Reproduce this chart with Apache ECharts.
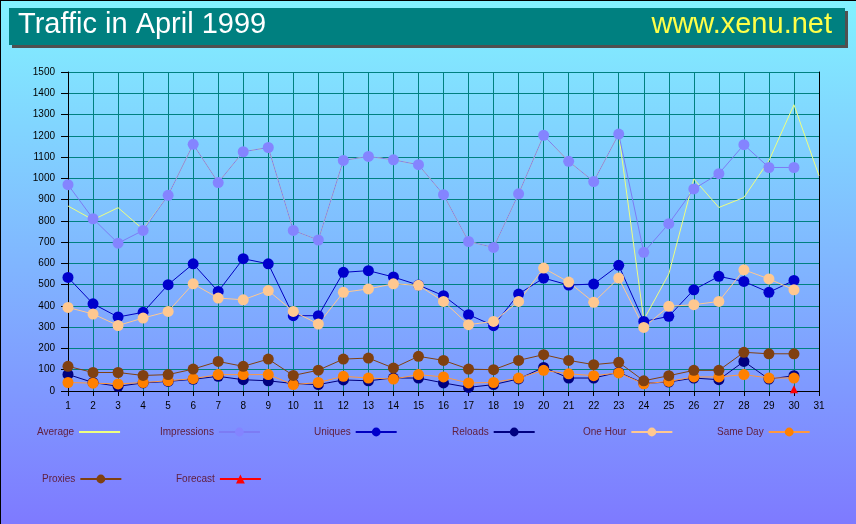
<!DOCTYPE html>
<html>
<head>
<meta charset="utf-8">
<script src="https://cdn.jsdelivr.net/npm/echarts@6/dist/echarts.min.js"></script>
<style>
  html, body { margin: 0; padding: 0; }
  #main { width: 856px; height: 524px; }
</style>
</head>
<body>
<div id="main"></div>
<script>
// days of the month
var days = ['1','2','3','4','5','6','7','8','9','10','11','12','13','14','15','16',
  '17','18','19','20','21','22','23','24','25','26','27','28','29','30','31'];

// series values
var average     = [870, 805, 862, 760, 920, 1160, 980, 1125, 1145, 755, 710, 1084, 1103, 1087, 1064, 923,
                   703, 675, 927, 1202, 1080, 985, 1208, 335, 550, 997, 863, 910, 1083, 1346, 1012];
var impressions = [970, 810, 695, 755, 920, 1160, 980, 1125, 1145, 755, 710, 1084, 1103, 1087, 1064, 923,
                   703, 675, 927, 1202, 1080, 985, 1208, 652, 787, 950, 1022, 1158, 1051, 1051, null];
var uniques     = [534, 410, 348, 370, 500, 598, 468, 622, 598, 354, 354, 558, 566, 536, 498, 448,
                   359, 307, 456, 531, 498, 503, 591, 327, 351, 476, 539, 515, 464, 520, null];
var reloads     = [78, 40, 22, 38, 45, 55, 69, 53, 48, 35, 30, 52, 48, 61, 61, 38,
                   17, 30, 57, 111, 61, 61, 88, 36, 42, 61, 53, 139, 56, 72, null];
var oneHour     = [393, 362, 308, 343, 374, 504, 437, 429, 472, 374, 315, 464, 480, 504, 497, 421,
                   312, 327, 421, 578, 512, 417, 531, 299, 398, 406, 421, 570, 527, 476, null];
var sameDay     = [40, 37, 33, 40, 48, 58, 77, 77, 77, 30, 40, 69, 61, 56, 77, 66,
                   38, 40, 61, 97, 81, 72, 85, 34, 45, 66, 66, 77, 61, 61, null];
var proxies     = [116, 87, 87, 73, 77, 103, 139, 116, 150, 73, 98, 150, 155, 108, 163, 144,
                   103, 100, 144, 171, 144, 124, 135, 48, 72, 97, 97, 182, 175, 175, null];
var forecast    = [null, null, null, null, null, null, null, null, null, null, null, null, null, null, null, null,
                   null, null, null, null, null, null, null, null, null, null, null, null, null, 8, null];

var yTicks = { min: 0, max: 1500, step: 100 };

var myChart = echarts.init(document.getElementById('main'));

var font = 'Liberation Sans, Arial, sans-serif';
var legendText = { color: '#602040', fontSize: 10, fontFamily: font };

function lineSeries(name, data, color, lineColor, symbol, size) {
  return {
    name: name,
    type: 'line',
    data: data,
    symbol: symbol,
    symbolSize: size,
    showSymbol: symbol !== 'none',
    connectNulls: false,
    animation: false,
    itemStyle: { color: color },
    lineStyle: { color: lineColor, width: 1 },
    emphasis: { disabled: true }
  };
}

// one legend box per item so each sits where the original puts it
function legendAt(item, x, y) {
  return {
    data: [item],
    left: x,
    top: y,
    align: 'right',
    padding: 0,
    itemWidth: 41,
    itemHeight: 11,
    textStyle: legendText,
    selectedMode: false
  };
}

option = {
  backgroundColor: {
    type: 'linear', x: 0, y: 0, x2: 0, y2: 1,
    colorStops: [
      { offset: 0, color: '#82F2FF' },
      { offset: 1, color: '#7E7AFF' }
    ]
  },
  title: [
    {
      text: 'Traffic in April 1999',
      left: 18, top: 10, padding: 0,
      textStyle: { color: '#ffffff', fontSize: 29, fontWeight: 'normal', fontFamily: font }
    },
    {
      text: 'www.xenu.net',
      right: 24, top: 10, padding: 0,
      textStyle: { color: '#FFFF48', fontSize: 29, fontWeight: 'normal', fontFamily: font }
    }
  ],
  graphic: [
    { type: 'rect', z: -2, shape: { x: 12, y: 11, width: 836, height: 37 }, style: { fill: '#505050' } },
    { type: 'rect', z: -1, shape: { x: 9, y: 8, width: 836, height: 37 }, style: { fill: '#008080' } },
    { type: 'rect', shape: { x: 0, y: 0, width: 1, height: 524 }, style: { fill: '#000000' } },
    { type: 'rect', shape: { x: 0, y: 0, width: 856, height: 1 }, style: { fill: '#000000' } }
  ],
  legend: [
    legendAt({ name: 'Average', itemStyle: { opacity: 0 } }, 37, 427),
    legendAt('Impressions', 160, 427),
    legendAt('Uniques', 314, 427),
    legendAt('Reloads', 452, 427),
    legendAt('One Hour', 583, 427),
    legendAt('Same Day', 717, 427),
    legendAt('Proxies', 42, 474),
    legendAt('Forecast', 176, 474)
  ],
  grid: { left: 68, right: 37, top: 72, bottom: 133, containLabel: false },
  xAxis: {
    type: 'category',
    data: days,
    boundaryGap: false,
    axisLine: { lineStyle: { color: '#000000', width: 1 } },
    axisTick: { show: true, interval: 0, length: 5, lineStyle: { color: '#000000' } },
    axisLabel: { interval: 0, margin: 10, color: '#000000', fontSize: 10, fontFamily: font },
    splitLine: { show: true, interval: 0, lineStyle: { color: '#008080', width: 1 } }
  },
  yAxis: [
    {
      type: 'value',
      min: yTicks.min, max: yTicks.max, interval: yTicks.step,
      axisLine: { show: true, lineStyle: { color: '#000000', width: 1 } },
      axisTick: { show: true, length: 7, lineStyle: { color: '#000000' } },
      axisLabel: {
        margin: 13, color: '#000000', fontSize: 10, fontFamily: font,
        formatter: function (v) { return String(v); }
      },
      splitLine: { show: true, lineStyle: { color: '#008080', width: 1 } }
    },
    {
      type: 'value', position: 'right',
      min: yTicks.min, max: yTicks.max, interval: yTicks.step,
      axisLine: { show: true, lineStyle: { color: '#000000', width: 1 } },
      axisTick: { show: false }, axisLabel: { show: false }, splitLine: { show: false }
    }
  ],
  series: [
    lineSeries('Average', average, '#EEFF80', '#EEFF80', 'none', 0),
    lineSeries('Impressions', impressions, '#8484FF', '#7C7CF4', 'circle', 11),
    lineSeries('Uniques', uniques, '#0000CC', '#0000C0', 'circle', 11),
    lineSeries('Reloads', reloads, '#000080', '#000080', 'circle', 11),
    lineSeries('One Hour', oneHour, '#FFC890', '#FFC890', 'circle', 11),
    lineSeries('Same Day', sameDay, '#FF8000', '#FF9840', 'circle', 11),
    lineSeries('Proxies', proxies, '#804010', '#804010', 'circle', 11),
    lineSeries('Forecast', forecast, '#FF0000', '#FF0000', 'triangle', 8)
  ]
};

myChart.setOption(option);
</script>
</body>
</html>
